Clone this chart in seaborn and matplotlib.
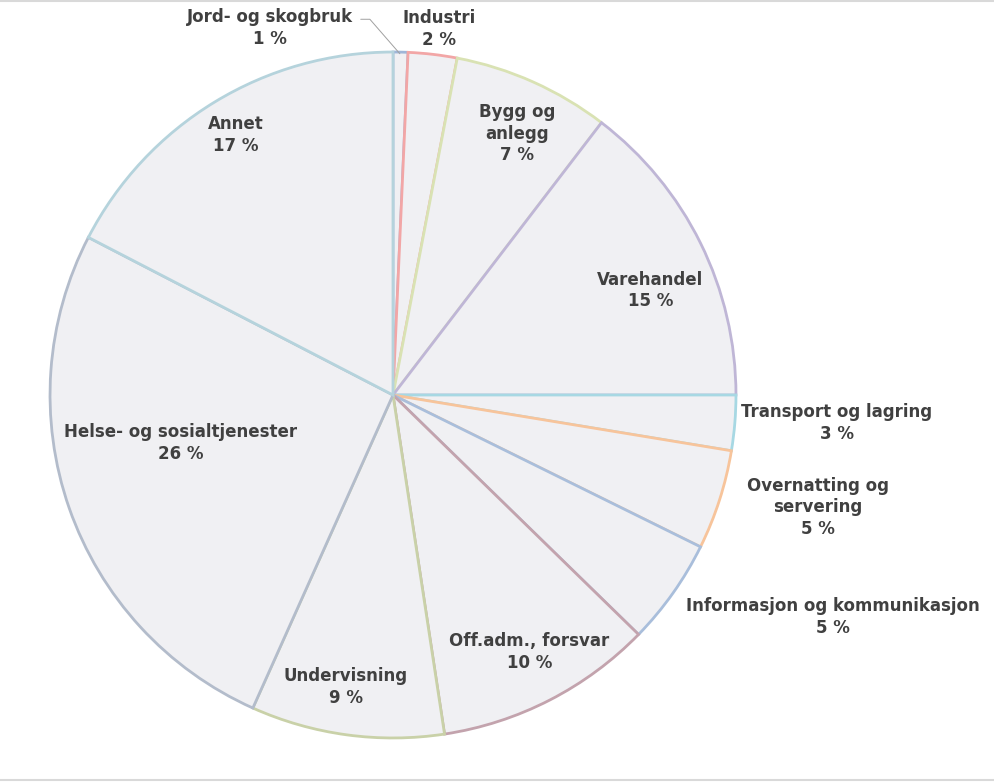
import matplotlib
matplotlib.use("Agg")
import matplotlib.pyplot as plt
import seaborn as sns
from matplotlib.lines import Line2D

# ---- data ----
categories = [
    "Jord- og skogbruk", "Industri", "Bygg og\nanlegg", "Varehandel",
    "Transport og lagring", "Overnatting og\nservering",
    "Informasjon og kommunikasjon", "Off.adm., forsvar", "Undervisning",
    "Helse- og sosialtjenester", "Annet",
]
shares = [0.7, 2.3, 7.4, 14.6, 2.6, 4.7, 5.0, 10.3, 9.1, 25.9, 17.4]

# ---- styles ----
edge_colors = [
    "#9fb6d8", "#f2a6a6", "#d9e2b3", "#bfb6d6", "#a7d8e3", "#f7c49b",
    "#a9bedb", "#c3a3ad", "#c9d1a8", "#b3bccb", "#b5d3dc",
]
label_pos = [
    (-0.358, 1.070), (0.134, 1.067), (0.363, 0.762), (0.750, 0.305),
    (1.294, -0.081), (1.238, -0.328), (1.282, -0.648), (0.398, -0.750),
    (-0.137, -0.852), (-0.619, -0.140), (-0.459, 0.759),
]

sns.set_theme(style="white")
plt.rcParams["font.family"] = ["DejaVu Sans"]

W, H = 995, 783
fig = plt.figure(figsize=(W / 100, H / 100), dpi=100)
cx, cy, R = 393, 395, 344
ax = fig.add_axes([(cx - R) / W, (H - cy - R) / H, 2 * R / W, 2 * R / H])

wedges, _ = ax.pie(
    shares, startangle=90, counterclock=False, radius=1.0,
    colors=["#f0f0f3"] * len(shares),
    wedgeprops=dict(linewidth=2.0, antialiased=True),
)
for w, ec in zip(wedges, edge_colors):
    w.set_edgecolor(ec)
ax.set_xlim(-1.003, 1.003)
ax.set_ylim(-1.003, 1.003)
ax.set_aspect("equal")
ax.axis("off")

text_kw = dict(ha="center", va="center", fontsize=12, fontweight="bold",
               color="#404040", linespacing=1.27)
for i, (cat, val) in enumerate(zip(categories, shares)):
    label = f"{cat}\n{round(val):d} %"
    x, y = label_pos[i]
    if i == 0:
        ax.annotate(label, xy=(0.02, 0.995), xytext=(x, y),
                    arrowprops=dict(arrowstyle="-", color="#a0a0a0", lw=0.7,
                                    shrinkA=3, shrinkB=0,
                                    connectionstyle="angle,angleA=0,angleB=131,rad=0",
                                    relpos=(1.0, 0.72)),
                    annotation_clip=False, **text_kw)
    else:
        ax.text(x, y, label, clip_on=False, **text_kw)

# frame lines top and bottom
fig.add_artist(Line2D([0, 1], [1 - 0.5 / H, 1 - 0.5 / H], color="#d9d9d9", lw=1.5,
                      transform=fig.transFigure))
fig.add_artist(Line2D([0, 1], [3.5 / H, 3.5 / H], color="#d9d9d9", lw=1.5,
                      transform=fig.transFigure))

fig.savefig("out.png", dpi=100, facecolor="white")
